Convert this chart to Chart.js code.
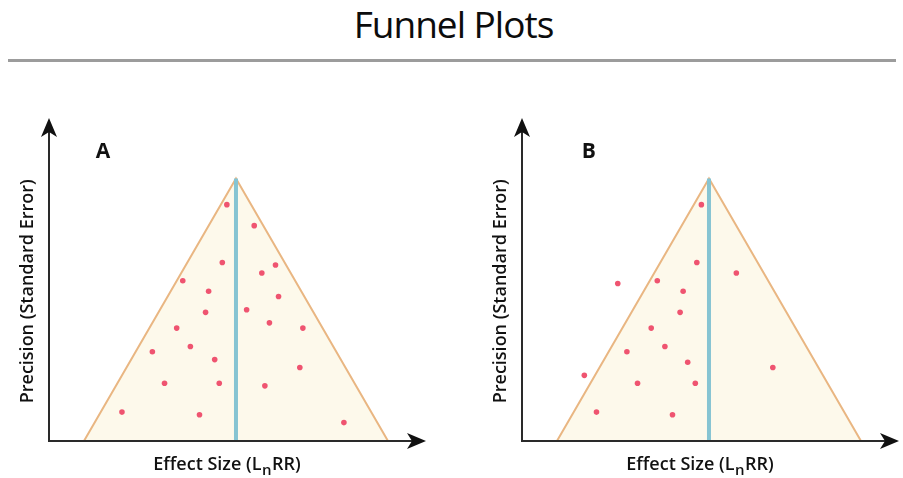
<!DOCTYPE html>
<html>
<head>
<meta charset="utf-8">
<script src="https://cdn.jsdelivr.net/npm/chart.js@4"></script>
<style>
  body { margin: 0; width: 903px; height: 478px; overflow: hidden; background: #fff; position: relative; }
  #title { position: absolute; left: 2px; top: 5px; width: 903px; text-align: center; font: 37px/37px "Open Sans", sans-serif; color: #0c0c0c; letter-spacing: -1px; }
  #rule { position: absolute; left: 8px; top: 59px; width: 888px; height: 3px; background: #9c9c9c; }
  .panel { position: absolute; top: 100px; }
</style>
</head>
<body>
<div id="title">Funnel Plots</div>
<div id="rule"></div>
<canvas id="panelA" class="panel" width="451" height="378" style="left:0"></canvas>
<canvas id="panelB" class="panel" width="452" height="378" style="left:451px"></canvas>
<script>
// funnel outline: effect size vs precision, apex at the pooled effect
const funnelX = [-1, 0, 1];
const funnelY = [0, 1, 0];

// studies in panel A (symmetric funnel)
const studiesAX = [-0.06, 0.12, -0.09, 0.17, 0.26, -0.35, -0.18, 0.28, -0.20, 0.07, 0.22, -0.39,
                   0.44, -0.55, -0.30, -0.14, 0.42, -0.47, -0.11, 0.19, -0.75, -0.24, 0.71];
const studiesAY = [0.90, 0.82, 0.68, 0.64, 0.67, 0.61, 0.57, 0.55, 0.49, 0.50, 0.45, 0.43,
                   0.43, 0.34, 0.36, 0.31, 0.28, 0.22, 0.22, 0.21, 0.11, 0.10, 0.07];

// studies in panel B (asymmetric funnel)
const studiesBX = [-0.05, -0.08, 0.18, -0.60, -0.34, -0.17, -0.19, -0.38, -0.54, -0.29, -0.14,
                   0.42, -0.82, -0.47, -0.09, -0.74, -0.24];
const studiesBY = [0.90, 0.68, 0.64, 0.60, 0.61, 0.57, 0.49, 0.43, 0.34, 0.36, 0.30,
                   0.28, 0.25, 0.22, 0.22, 0.11, 0.10];

const xLabel = ['Effect Size (L', 'n', 'RR)'];
const yLabel = 'Precision (Standard Error)';

function toPoints(xs, ys) {
    return xs.map((x, i) => ({ x: x, y: ys[i] }));
}

const funnelAxes = {
    id: 'funnelAxes',
    afterDraw(chart, args, opts) {
        const ctx = chart.ctx;
        const a = chart.chartArea;
        const xs = chart.scales.x, ys = chart.scales.y;
        const y0 = ys.getPixelForValue(0);
        ctx.save();
        ctx.strokeStyle = '#2a2a2a';
        ctx.fillStyle = '#111';
        ctx.lineWidth = 2;
        ctx.beginPath();
        ctx.moveTo(a.left, y0);
        ctx.lineTo(a.left, a.top + 12);
        ctx.moveTo(a.left - 1, y0);
        ctx.lineTo(a.right - 12, y0);
        ctx.stroke();

        // arrow heads
        ctx.beginPath();
        ctx.moveTo(a.left, a.top);
        ctx.lineTo(a.left + 8, a.top + 19);
        ctx.lineTo(a.left, a.top + 14);
        ctx.lineTo(a.left - 8, a.top + 19);
        ctx.closePath();
        ctx.fill();
        ctx.beginPath();
        ctx.moveTo(a.right, y0);
        ctx.lineTo(a.right - 19, y0 - 8);
        ctx.lineTo(a.right - 14, y0);
        ctx.lineTo(a.right - 19, y0 + 8);
        ctx.closePath();
        ctx.fill();

        // panel letter
        ctx.font = 'bold 21px "Open Sans"';
        ctx.textAlign = 'center';
        ctx.textBaseline = 'middle';
        ctx.fillText(opts.letter, xs.getPixelForValue(opts.letterX), ys.getPixelForValue(1.1));

        // x axis title with subscript
        const big = '600 18px "Open Sans"', small = '600 15px "Open Sans"';
        ctx.textAlign = 'left';
        ctx.textBaseline = 'alphabetic';
        ctx.font = big;
        const w0 = ctx.measureText(xLabel[0]).width;
        const w2 = ctx.measureText(xLabel[2]).width;
        ctx.font = small;
        const w1 = ctx.measureText(xLabel[1]).width + 1;
        let tx = xs.getPixelForValue(0) - 9 - (w0 + w1 + w2) / 2;
        const base = y0 + 29;
        ctx.font = big;
        ctx.fillText(xLabel[0], tx, base);
        ctx.font = small;
        ctx.fillText(xLabel[1], tx + w0 + 0.5, base + 5);
        ctx.font = big;
        ctx.fillText(xLabel[2], tx + w0 + w1, base);

        // y axis title
        ctx.translate(a.left - 21, ys.getPixelForValue(0.57));
        ctx.rotate(-Math.PI / 2);
        ctx.textAlign = 'center';
        ctx.textBaseline = 'middle';
        ctx.fillText(yLabel, 0, 0);
        ctx.restore();
    }
};

function makePanel(id, letter, letterX, studyX, studyY, padding) {
    new Chart(document.getElementById(id), {
        type: 'scatter',
        data: {
            datasets: [{
                data: toPoints(studyX, studyY),
                pointRadius: 2.8,
                pointBackgroundColor: '#ef5470',
                pointBorderWidth: 0,
                order: 0
            }, {
                type: 'line',
                data: [{ x: 0, y: 0 }, { x: 0, y: 1 }],
                borderColor: '#86c4d2',
                borderWidth: 4,
                pointRadius: 0,
                order: 1
            }, {
                type: 'line',
                data: toPoints(funnelX, funnelY),
                borderColor: '#e9b682',
                borderWidth: 2,
                backgroundColor: '#fdf9eb',
                fill: 'origin',
                pointRadius: 0,
                tension: 0,
                order: 2
            }]
        },
        options: {
            responsive: false,
            animation: false,
            events: [],
            layout: { padding: padding },
            plugins: {
                legend: { display: false },
                tooltip: { enabled: false },
                funnelAxes: { letter: letter, letterX: letterX }
            },
            scales: {
                x: { type: 'linear', display: false, min: -1.23, max: 1.25 },
                y: { type: 'linear', display: false, min: 0, max: 1.23 }
            }
        },
        plugins: [funnelAxes]
    });
}

makePanel('panelA', 'A', -0.875, studiesAX, studiesAY, { left: 49, right: 25, top: 18, bottom: 37 });
makePanel('panelB', 'B', -0.79, studiesBX, studiesBY, { left: 71, right: 4, top: 18, bottom: 37 });
</script>
</body>
</html>
